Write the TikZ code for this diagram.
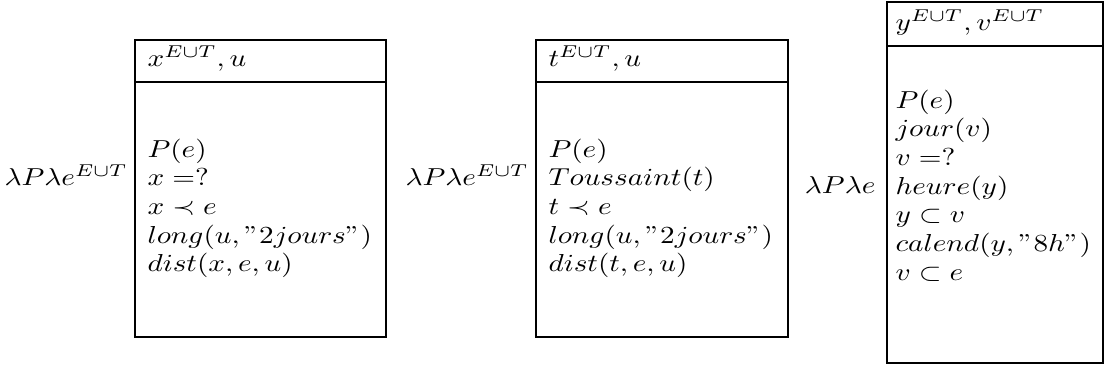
\documentclass[tikz,border=0pt]{standalone}
\usepackage{amsmath,amssymb,graphicx}
\newcommand{\vsq}[1]{\scalebox{1}[0.84]{#1}}
\begin{document}
\begin{tikzpicture}[x=0.3425pt,y=-0.3425pt,
  txt/.style={anchor=base west, inner sep=0pt, font=\fontsize{10}{12}\selectfont},
  lab/.style={anchor=base east, inner sep=0pt, font=\fontsize{10}{12}\selectfont},
  drsbox/.style={draw, line width=0.42pt}]
\useasboundingbox (0,0) rectangle (1104,374);
% box 1
\draw[drsbox] (135,40) rectangle (386,337);
\draw[drsbox] (135,82) -- (386,82);
\node[lab] (l1) at (128,185) {\vsq{$\lambda P\lambda e^{E\cup T}$}};
\node[txt] (h1) at (147,66) {\vsq{$x^{E\cup T}, u$}};
\foreach \t [count=\i] in {{$P(e)$},{$x =?$},{$x \prec e$},{$long(u,"2jours")$},{$dist(x,e,u)$}}
  \node[txt] (a\i) at (147,{157+28.7*(\i-1)}) {\vsq{\t}};
% box 2
\draw[drsbox] (536,40) rectangle (788,337);
\draw[drsbox] (536,82) -- (788,82);
\node[lab] (l2) at (529,185) {\vsq{$\lambda P\lambda e^{E\cup T}$}};
\node[txt] (h2) at (548,66) {\vsq{$t^{E\cup T}, u$}};
\foreach \t [count=\i] in {{$P(e)$},{$Toussaint(t)$},{$t \prec e$},{$long(u,"2jours")$},{$dist(t,e,u)$}}
  \node[txt] (b\i) at (548,{157+28.7*(\i-1)}) {\vsq{\t}};
% box 3
\draw[drsbox] (887,2) rectangle (1103,363);
\draw[drsbox] (887,46) -- (1103,46);
\node[lab] (l3) at (876,193) {\vsq{$\lambda P\lambda e$}};
\node[txt] (h3) at (895,30) {\vsq{$y^{E\cup T}, v^{E\cup T}$}};
\foreach \t [count=\i] in {{$P(e)$},{$jour(v)$},{$v =?$},{$heure(y)$},{$y \subset v$},{$calend(y,"8h")$},{$v \subset e$}}
  \node[txt] (c\i) at (895,{108+28.7*(\i-1)}) {\vsq{\t}};
\end{tikzpicture}
\end{document}
